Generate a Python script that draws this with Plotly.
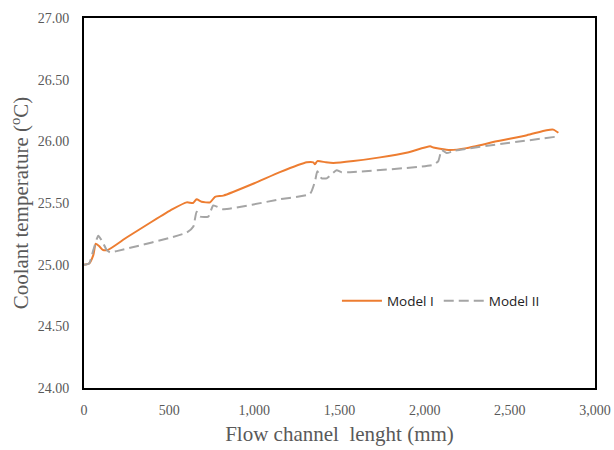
import plotly.graph_objects as go

# Flow channel position (mm) and coolant temperature (°C) for each model
model1_x = [0, 30, 55, 69, 90, 110, 141, 250, 400, 520, 603, 640, 661, 690, 740, 769, 818,
            1000, 1150, 1308, 1346, 1356, 1370, 1420, 1464, 1581, 1738, 1900, 2032, 2051,
            2090, 2148, 2246, 2422, 2600, 2716, 2755, 2785]
model1_y = [25.00, 25.01, 25.08, 25.17, 25.15, 25.12, 25.12, 25.22, 25.35, 25.45, 25.505, 25.50,
            25.53, 25.51, 25.505, 25.55, 25.56, 25.66, 25.75, 25.83, 25.83, 25.815, 25.84, 25.83,
            25.825, 25.84, 25.87, 25.91, 25.96, 25.95, 25.94, 25.93, 25.945, 26.00, 26.05,
            26.09, 26.095, 26.07]

model2_x = [0, 30, 55, 84, 110, 133, 153, 192, 603, 642, 661, 681, 730, 759, 818, 1150, 1327,
            1356, 1370, 1395, 1425, 1483, 1512, 1562, 2051, 2080, 2100, 2129, 2178, 2785]
model2_y = [25.00, 25.01, 25.12, 25.235, 25.18, 25.12, 25.10, 25.11, 25.26, 25.31, 25.43, 25.39,
            25.39, 25.48, 25.45, 25.53, 25.575, 25.675, 25.757, 25.70, 25.70, 25.765, 25.75,
            25.75, 25.81, 25.84, 25.93, 25.905, 25.925, 26.04]

x_ticks = [0, 500, 1000, 1500, 2000, 2500, 3000]
x_tick_text = ["0", "500", "1,000", "1,500", "2,000", "2,500", "3,000"]
y_ticks = [24.0, 24.5, 25.0, 25.5, 26.0, 26.5, 27.0]
y_tick_text = ["24.00", "24.50", "25.00", "25.50", "26.00", "26.50", "27.00"]

fig = go.Figure()
fig.add_trace(go.Scatter(
    x=model1_x, y=model1_y, mode="lines", name="Model I",
    line=dict(color="#ED7D31", width=2, shape="spline", smoothing=0.5),
))
fig.add_trace(go.Scatter(
    x=model2_x, y=model2_y, mode="lines", name="Model II",
    line=dict(color="#A5A5A5", width=2, dash="10px,5px", shape="spline", smoothing=0.5),
))

tick_font = dict(family="Liberation Serif", size=14, color="#595959")
title_font = dict(family="Liberation Serif", size=21, color="#595959")

fig.update_layout(
    width=614, height=450,
    margin=dict(l=84, r=19, t=18, b=62),
    paper_bgcolor="white", plot_bgcolor="white",
    showlegend=True,
    legend=dict(
        orientation="h", x=0.495, y=0.235, xanchor="left", yanchor="middle",
        font=dict(family="Open Sans", size=13.5, color="#222222"),
        bgcolor="rgba(0,0,0,0)", itemwidth=40, tracegroupgap=0,
    ),
    xaxis=dict(
        range=[0, 3000], tickvals=x_ticks, ticktext=x_tick_text,
        tickfont=tick_font, showgrid=False, zeroline=False, ticks="",
        ticklabelstandoff=8, automargin=False,
        showline=True, linecolor="black", linewidth=2, mirror=True,
        title=dict(text="Flow channel  lenght (mm)", font=title_font, standoff=10),
    ),
    yaxis=dict(
        range=[24.0, 27.0], tickvals=y_ticks, ticktext=y_tick_text,
        tickfont=tick_font, showgrid=False, zeroline=False, ticks="",
        ticklabelstandoff=10, automargin=False,
        showline=True, linecolor="black", linewidth=2, mirror=True,
        title=dict(text="Coolant temperature (<sup>o</sup>C)", font=title_font, standoff=3),
    ),
)

fig.write_html("out.html")
